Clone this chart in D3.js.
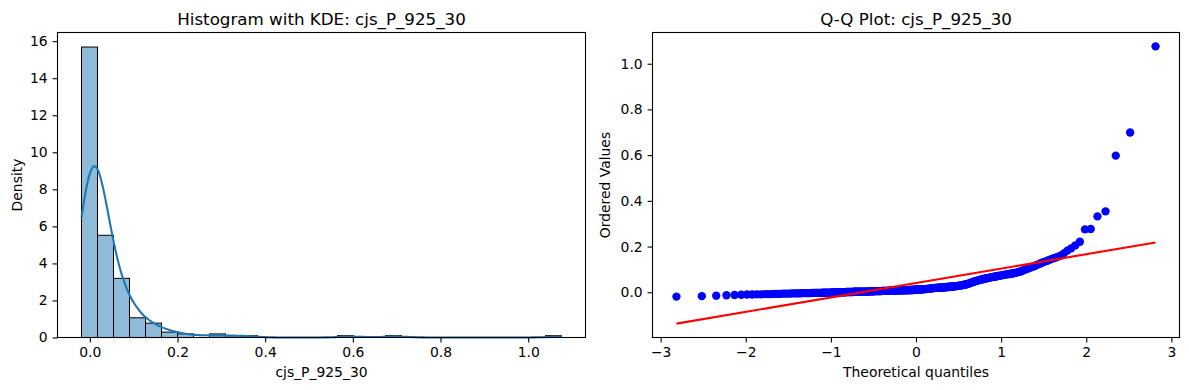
<!DOCTYPE html>
<html>
<head>
<meta charset="utf-8">
<script src="https://cdn.jsdelivr.net/npm/d3@7"></script>
<style>
body { margin: 0; background: #fff; }
svg text { font-family: "DejaVu Sans", sans-serif; fill: #000; }
</style>
</head>
<body>
<div id="viz"></div>
<script>
var varName = "cjs_P_925_30";

var values = [
  -0.019, -0.017, -0.015, -0.013, -0.012,
  -0.011, -0.010, -0.010, -0.009, -0.009, -0.008, -0.008, -0.008, -0.007, -0.007,
  -0.007, -0.006, -0.006, -0.006, -0.006,
  -0.005, -0.005, -0.005, -0.005, -0.005, -0.004, -0.004, -0.004, -0.004, -0.004,
  -0.004, -0.003, -0.003, -0.003, -0.003, -0.003, -0.003, -0.003, -0.002, -0.002,
  -0.002, -0.002, -0.002, -0.002, -0.002,
  -0.001, -0.001, -0.001, -0.001, -0.001, -0.001, 0.000, 0.000, 0.000, 0.000,
  0.000, 0.000, 0.000, 0.001, 0.001, 0.001, 0.001, 0.001, 0.001, 0.001,
  0.002, 0.002, 0.002, 0.002, 0.002, 0.002, 0.002, 0.002, 0.003, 0.003,
  0.003, 0.003, 0.003, 0.003, 0.003, 0.003, 0.004, 0.004, 0.004, 0.004,
  0.004, 0.004, 0.004,
  0.005, 0.005, 0.005, 0.005, 0.005, 0.005, 0.005, 0.005, 0.005,
  0.006, 0.006, 0.006, 0.006, 0.006, 0.006, 0.006, 0.006, 0.006,
  0.007, 0.007, 0.007, 0.007, 0.007, 0.007, 0.007, 0.007, 0.007,
  0.008, 0.008, 0.008, 0.008, 0.008, 0.008, 0.008, 0.008, 0.008,
  0.009, 0.009, 0.009, 0.009, 0.009, 0.009, 0.009, 0.009,
  0.010, 0.010, 0.010, 0.010, 0.010, 0.010,
  0.011, 0.011, 0.011, 0.011, 0.011,
  0.012, 0.012, 0.012, 0.012, 0.013, 0.013, 0.013, 0.013,
  0.014, 0.014, 0.014, 0.014, 0.015, 0.015, 0.015, 0.015, 0.016, 0.016, 0.016,
  0.018, 0.018, 0.018, 0.018, 0.019, 0.019, 0.019, 0.019, 0.020, 0.020,
  0.020, 0.020, 0.021, 0.021, 0.021, 0.021, 0.022, 0.022, 0.022, 0.023,
  0.023, 0.023, 0.024, 0.024, 0.024, 0.025, 0.025, 0.025,
  0.026, 0.026, 0.027, 0.027, 0.028, 0.028, 0.029, 0.029, 0.030, 0.030,
  0.031, 0.032, 0.033, 0.034, 0.035,
  0.036, 0.037, 0.038, 0.040, 0.041, 0.043, 0.044, 0.046, 0.047, 0.049,
  0.050, 0.051, 0.052, 0.053,
  0.055, 0.056, 0.057, 0.058, 0.059, 0.060, 0.061, 0.062, 0.063, 0.064,
  0.065, 0.066, 0.067, 0.068, 0.069, 0.070, 0.071, 0.072, 0.073, 0.074,
  0.075, 0.076, 0.077, 0.078, 0.079, 0.080, 0.081, 0.082, 0.083, 0.085,
  0.086, 0.088, 0.090,
  0.092, 0.095, 0.098, 0.101, 0.104, 0.107, 0.110, 0.113, 0.117, 0.121, 0.125,
  0.129, 0.133, 0.137, 0.141, 0.146, 0.150, 0.155, 0.160,
  0.170, 0.182, 0.192, 0.205, 0.221, 0.275, 0.277,
  0.332, 0.354, 0.598, 0.699, 1.076
];
var binCount = 30;

var histXTicks = [0.0, 0.2, 0.4, 0.6, 0.8, 1.0];
var histYTicks = [0, 2, 4, 6, 8, 10, 12, 14, 16];
var qqXTicks = [-3, -2, -1, 0, 1, 2, 3];
var qqYTicks = [0.0, 0.2, 0.4, 0.6, 0.8, 1.0];

var W = 1189, H = 390;
var tickFont = 13.9, titleFont = 16.7;
var tickLen = 4.9, tickPad = 4.9;

var svg = d3.select("#viz").append("svg")
    .attr("width", W).attr("height", H)
    .attr("xmlns", "http://www.w3.org/2000/svg");

var box1 = {x0: 57.5, x1: 585.5, y0: 32.5, y1: 337.5};
var box2 = {x0: 652.5, x1: 1179.5, y0: 32.5, y1: 337.5};

function pad(lo, hi) {
    var m = (hi - lo) * 0.05;
    return [lo - m, hi + m];
}

// inverse normal cdf (Acklam)
function normPpf(p) {
    var a = [-3.969683028665376e+01, 2.209460984245205e+02, -2.759285104469687e+02,
             1.383577518672690e+02, -3.066479806614716e+01, 2.506628277459239e+00];
    var b = [-5.447609879822406e+01, 1.615858368580409e+02, -1.556989798598866e+02,
             6.680131188771972e+01, -1.328068155288572e+01];
    var c = [-7.784894002430293e-03, -3.223964580411365e-01, -2.400758277161838e+00,
             -2.549732539343734e+00, 4.374664141464968e+00, 2.938163982698783e+00];
    var d = [7.784695709041462e-03, 3.224671290700398e-01, 2.445134137142996e+00,
             3.754408661907416e+00];
    var q, r;
    if (p < 0.02425) {
        q = Math.sqrt(-2 * Math.log(p));
        return (((((c[0]*q+c[1])*q+c[2])*q+c[3])*q+c[4])*q+c[5]) /
               ((((d[0]*q+d[1])*q+d[2])*q+d[3])*q+1);
    } else if (p > 1 - 0.02425) {
        q = Math.sqrt(-2 * Math.log(1 - p));
        return -(((((c[0]*q+c[1])*q+c[2])*q+c[3])*q+c[4])*q+c[5]) /
                ((((d[0]*q+d[1])*q+d[2])*q+d[3])*q+1);
    }
    q = p - 0.5; r = q * q;
    return (((((a[0]*r+a[1])*r+a[2])*r+a[3])*r+a[4])*r+a[5])*q /
           (((((b[0]*r+b[1])*r+b[2])*r+b[3])*r+b[4])*r+1);
}

function drawAxes(g, box, xs, ys, xTicks, yTicks, xFmt, yFmt) {
    g.append("g")
        .attr("transform", "translate(0," + box.y1 + ")")
        .call(d3.axisBottom(xs).tickValues(xTicks).tickFormat(xFmt)
            .tickSize(tickLen).tickPadding(tickPad).tickSizeOuter(0))
        .call(function(a) {
            a.select(".domain").remove();
            a.selectAll("line").attr("stroke", "#000").attr("stroke-width", 1.1);
            a.selectAll("text").attr("font-size", tickFont)
                .attr("font-family", "DejaVu Sans").attr("fill", "#000");
        });
    g.append("g")
        .attr("transform", "translate(" + box.x0 + ",0)")
        .call(d3.axisLeft(ys).tickValues(yTicks).tickFormat(yFmt)
            .tickSize(tickLen).tickPadding(tickPad).tickSizeOuter(0))
        .call(function(a) {
            a.select(".domain").remove();
            a.selectAll("line").attr("stroke", "#000").attr("stroke-width", 1.1);
            a.selectAll("text").attr("font-size", tickFont)
                .attr("font-family", "DejaVu Sans").attr("fill", "#000");
        });
    g.append("rect")
        .attr("x", box.x0).attr("y", box.y0)
        .attr("width", box.x1 - box.x0).attr("height", box.y1 - box.y0)
        .attr("fill", "none").attr("stroke", "#000").attr("stroke-width", 1.1);
}

function labels(g, box, title, xLabel, yLabel, yLabelX) {
    var cx = (box.x0 + box.x1) / 2, cy = (box.y0 + box.y1) / 2;
    g.append("text").attr("x", cx).attr("y", 24.5)
        .attr("text-anchor", "middle").attr("font-size", titleFont).text(title);
    g.append("text").attr("x", cx).attr("y", 377)
        .attr("text-anchor", "middle").attr("font-size", tickFont).text(xLabel);
    g.append("text")
        .attr("transform", "translate(" + yLabelX + "," + cy + ") rotate(-90)")
        .attr("text-anchor", "middle").attr("font-size", tickFont).text(yLabel);
}

// ---------- histogram + KDE ----------
var n = values.length;
var vMin = d3.min(values), vMax = d3.max(values);
var binW = (vMax - vMin) / binCount;
var edges = d3.range(1, binCount).map(function(k) { return vMin + k * binW; });
var bins = d3.bin().domain([vMin, vMax]).thresholds(edges)(values);
bins.forEach(function(b) { b.density = b.length / (n * binW); });

// gaussian KDE, Scott bandwidth, cut at the data range
var bw = d3.deviation(values) * Math.pow(n, -0.2);
var grid = d3.range(200).map(function(i) { return vMin + i * (vMax - vMin) / 199; });
var kde = grid.map(function(x) {
    var s = 0;
    for (var i = 0; i < n; i++) {
        var u = (x - values[i]) / bw;
        s += Math.exp(-0.5 * u * u);
    }
    return [x, s / (n * bw * Math.sqrt(2 * Math.PI))];
});

var xs1 = d3.scaleLinear().domain(pad(vMin, vMax)).range([box1.x0, box1.x1]);
var ys1 = d3.scaleLinear()
    .domain([0, d3.max(bins, function(b) { return b.density; }) * 1.05])
    .range([box1.y1, box1.y0]);

var g1 = svg.append("g");
g1.selectAll("rect.bar")
    .data(bins.filter(function(b) { return b.length > 0; }))
    .enter().append("rect")
    .attr("class", "bar")
    .attr("x", function(b) { return xs1(b.x0); })
    .attr("width", function(b) { return xs1(b.x1) - xs1(b.x0); })
    .attr("y", function(b) { return ys1(b.density); })
    .attr("height", function(b) { return ys1(0) - ys1(b.density); })
    .attr("fill", "#1f77b4").attr("fill-opacity", 0.5)
    .attr("stroke", "#000").attr("stroke-width", 1);

g1.append("path")
    .datum(kde)
    .attr("d", d3.line().x(function(d) { return xs1(d[0]); }).y(function(d) { return ys1(d[1]); }))
    .attr("fill", "none").attr("stroke", "#1f77b4").attr("stroke-width", 2.1);

drawAxes(g1, box1, xs1, ys1, histXTicks, histYTicks, d3.format(".1f"), d3.format("d"));
labels(g1, box1, "Histogram with KDE: " + varName, varName, "Density", 21.5);

// ---------- Q-Q plot ----------
var mLast = Math.pow(0.5, 1 / n);
var osm = values.map(function(v, i) {
    var m;
    if (i === 0) m = 1 - mLast;
    else if (i === n - 1) m = mLast;
    else m = (i + 1 - 0.3175) / (n + 0.365);
    return normPpf(m);
});
var qMean = d3.mean(osm), vMean = d3.mean(values);
var sxy = 0, sxx = 0;
osm.forEach(function(q, i) {
    sxy += (q - qMean) * (values[i] - vMean);
    sxx += (q - qMean) * (q - qMean);
});
var slope = sxy / sxx, intercept = vMean - slope * qMean;
var qMin = d3.min(osm), qMax = d3.max(osm);
var fitLine = [[qMin, slope * qMin + intercept], [qMax, slope * qMax + intercept]];

var xs2 = d3.scaleLinear().domain(pad(qMin, qMax)).range([box2.x0, box2.x1]);
var yLo = Math.min(vMin, fitLine[0][1]), yHi = Math.max(vMax, fitLine[1][1]);
var ys2 = d3.scaleLinear().domain(pad(yLo, yHi)).range([box2.y1, box2.y0]);

var g2 = svg.append("g");
g2.selectAll("circle.pt")
    .data(values)
    .enter().append("circle")
    .attr("class", "pt")
    .attr("cx", function(d, i) { return xs2(osm[i]); })
    .attr("cy", function(d) { return ys2(d); })
    .attr("r", 4.17)
    .attr("fill", "#0000ff");

g2.append("path")
    .datum(fitLine)
    .attr("d", d3.line().x(function(d) { return xs2(d[0]); }).y(function(d) { return ys2(d[1]); }))
    .attr("fill", "none").attr("stroke", "#ff0000").attr("stroke-width", 2.1);

drawAxes(g2, box2, xs2, ys2, qqXTicks, qqYTicks, d3.format("d"), d3.format(".1f"));
labels(g2, box2, "Q-Q Plot: " + varName, "Theoretical quantiles", "Ordered Values", 610);
</script>
</body>
</html>
